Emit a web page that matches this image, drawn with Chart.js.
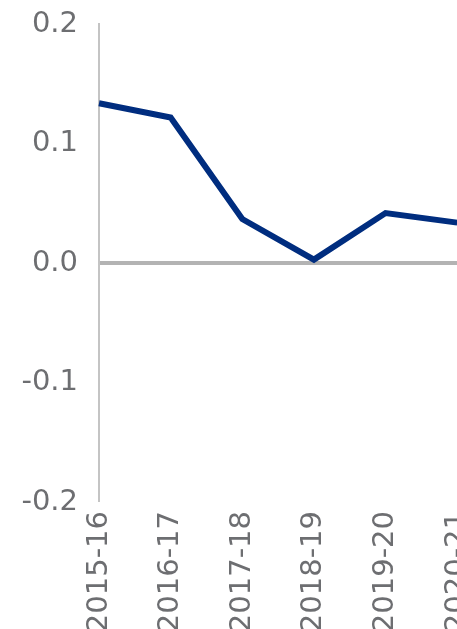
<!DOCTYPE html>
<html>
<head>
<meta charset="utf-8">
<script src="https://cdn.jsdelivr.net/npm/chart.js@4"></script>
<style>
  html, body { margin: 0; padding: 0; background: #fff; overflow: hidden; }
  #wrap { position: absolute; left: 0; top: -14px; width: 501px; height: 662px; }
</style>
</head>
<body>
<div id="wrap"><canvas id="theChart"></canvas></div>
<script>
'use strict';

// data
let years = ['2015-16', '2016-17', '2017-18', '2018-19', '2019-20', '2020-21'];
let values = [0.134, 0.122, 0.037, 0.003, 0.042, 0.034];
let yTicks = [-0.2, -0.1, 0.0, 0.1, 0.2];

let labelColor = '#6d6e71';

const config = {
  type: 'line',
  data: {
    labels: years,
    datasets: [{
      data: values,
      borderColor: '#002d7f',
      borderWidth: 6,
      pointRadius: 0,
      tension: 0,
      fill: false
    }]
  },
  options: {
    responsive: true,
    maintainAspectRatio: false,
    animation: false,
    layout: { padding: { top: 6, right: 40, left: 0, bottom: 0 } },
    plugins: { legend: { display: false }, tooltip: { enabled: false } },
    scales: {
      x: {
        grid: { display: false, drawTicks: false },
        border: { display: false },
        ticks: {
          color: labelColor,
          font: { family: 'DejaVu Sans', size: 29 },
          minRotation: 90,
          maxRotation: 90,
          padding: 9,
          autoSkip: false
        },
        afterFit: function (scale) { scale.height = 146; }
      },
      y: {
        min: yTicks[0],
        max: yTicks[yTicks.length - 1],
        afterBuildTicks: function (scale) {
          scale.ticks = yTicks.map(function (v) { return { value: v }; });
        },
        grid: {
          drawTicks: false,
          color: function (ctx) { return ctx.tick && ctx.tick.value === 0 ? '#b3b3b3' : 'rgba(0,0,0,0)'; },
          lineWidth: function (ctx) { return ctx.tick && ctx.tick.value === 0 ? 4 : 0; }
        },
        border: { display: true, color: '#c4c4c4', width: 2 },
        ticks: {
          color: labelColor,
          font: { family: 'DejaVu Sans', size: 29 },
          padding: 21,
          callback: function (v) { return Number(v).toFixed(1); }
        },
        afterFit: function (scale) { scale.width = 99; }
      }
    }
  }
};

new Chart(document.getElementById('theChart'), config);
</script>
</body>
</html>
